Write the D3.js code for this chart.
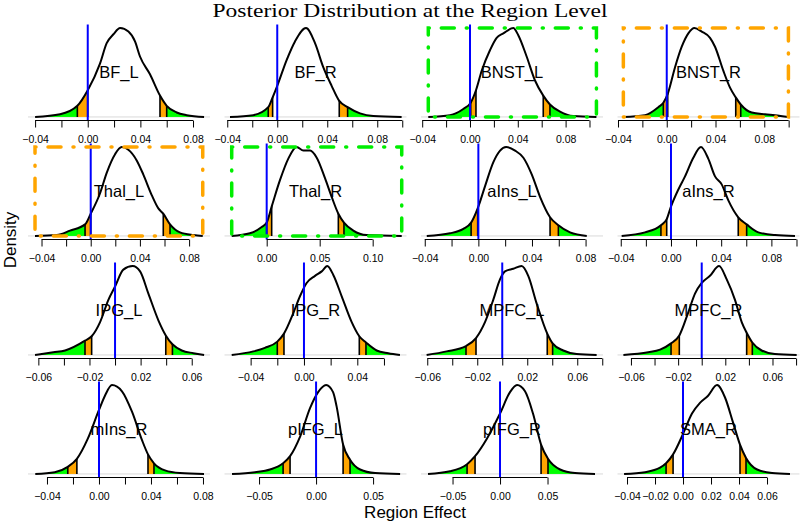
<!DOCTYPE html>
<html>
<head>
<meta charset="utf-8">
<script src="https://cdn.jsdelivr.net/npm/d3@7/dist/d3.min.js"></script>
<style>
    body { margin: 0; background: #fff; }
    svg text { font-family: "Liberation Sans", Arial, sans-serif; fill: #000; }
</style>
</head>
<body>
<div id="chart"></div>
<script>
var regions = ["BF_L", "BF_R", "BNST_L", "BNST_R",
               "Thal_L", "Thal_R", "aIns_L", "aIns_R",
               "IPG_L", "IPG_R", "MPFC_L", "MPFC_R",
               "mIns_R", "pIFG_L", "pIFG_R", "SMA_R"];

// x axis range of each panel
var xLimits = [
    [-0.0454, 0.0929], [-0.0422, 0.1034], [-0.0410, 0.1113], [-0.0404, 0.1089],
    [-0.0510, 0.0970], [-0.0398, 0.1319], [-0.0428, 0.0930], [-0.0426, 0.1024],
    [-0.0681, 0.0743], [-0.0596, 0.0769], [-0.0650, 0.0806], [-0.0714, 0.0829],
    [-0.0546, 0.0854], [-0.0803, 0.0793], [-0.0832, 0.1084], [-0.0468, 0.0832]
];

var tickValues = [
    [-0.04, -0.02, 0, 0.02, 0.04, 0.06, 0.08],
    [-0.04, -0.02, 0, 0.02, 0.04, 0.06, 0.08, 0.10],
    [-0.04, -0.02, 0, 0.02, 0.04, 0.06, 0.08, 0.10],
    [-0.04, -0.02, 0, 0.02, 0.04, 0.06, 0.08, 0.10],
    [-0.04, -0.02, 0, 0.02, 0.04, 0.06, 0.08],
    [0, 0.05, 0.10],
    [-0.04, -0.02, 0, 0.02, 0.04, 0.06, 0.08],
    [-0.04, -0.02, 0, 0.02, 0.04, 0.06, 0.08, 0.10],
    [-0.06, -0.04, -0.02, 0, 0.02, 0.04, 0.06],
    [-0.04, -0.02, 0, 0.02, 0.04, 0.06],
    [-0.06, -0.04, -0.02, 0, 0.02, 0.04, 0.06, 0.08],
    [-0.06, -0.04, -0.02, 0, 0.02, 0.04, 0.06, 0.08],
    [-0.04, -0.02, 0, 0.02, 0.04, 0.06, 0.08],
    [-0.05, 0, 0.05],
    [-0.05, 0, 0.05],
    [-0.04, -0.02, 0, 0.02, 0.04, 0.06]
];

var tickLabels = [
    [-0.04, 0, 0.04, 0.08], [-0.04, 0, 0.04, 0.08], [-0.04, 0, 0.04, 0.08], [-0.04, 0, 0.04, 0.08],
    [-0.04, 0, 0.04, 0.08], [0, 0.05, 0.10], [-0.04, 0, 0.04, 0.08], [-0.04, 0, 0.04, 0.08],
    [-0.06, -0.02, 0.02, 0.06], [-0.04, 0, 0.04], [-0.06, -0.02, 0.02, 0.06], [-0.06, -0.02, 0.02, 0.06],
    [-0.04, 0, 0.04, 0.08], [-0.05, 0, 0.05], [-0.05, 0, 0.05], [-0.04, -0.02, 0, 0.02, 0.04, 0.06]
];

// outer / inner lower cut, inner / outer upper cut of the shaded tails
var tailCuts = [
    [-0.0079, 0.0000, 0.0549, 0.0600],
    [-0.0072, -0.0037, 0.0496, 0.0563],
    [0.0006, 0.0050, 0.0613, 0.0669],
    [-0.0028, 0.0008, 0.0566, 0.0607],
    [-0.0046, 0.0000, 0.0590, 0.0645],
    [0.0000, 0.0047, 0.0676, 0.0729],
    [-0.0054, -0.0005, 0.0535, 0.0597],
    [-0.0080, -0.0034, 0.0536, 0.0603],
    [-0.0235, -0.0183, 0.0397, 0.0449],
    [-0.0200, -0.0150, 0.0415, 0.0465],
    [-0.0290, -0.0210, 0.0360, 0.0403],
    [-0.0260, -0.0190, 0.0381, 0.0429],
    [-0.0240, -0.0170, 0.0377, 0.0423],
    [-0.0289, -0.0228, 0.0237, 0.0298],
    [-0.0347, -0.0263, 0.0432, 0.0505],
    [-0.0121, -0.0071, 0.0407, 0.0450]
];

var boxColors = [null, null, "#00ee00", "#ffa500",
                 "#ffa500", "#00ee00", null, null,
                 null, null, null, null,
                 null, null, null, null];

// posterior densities, relative to each panel's peak
var densities = [
    [[-0.0400,0],[-0.0210,0.03],[-0.0079,0.125],[0.0000,0.30],[0.0093,0.60],[0.0144,0.83],[0.0195,0.93],[0.0246,1.0],[0.0309,0.96],[0.0359,0.85],[0.0397,0.68],[0.0473,0.48],[0.0549,0.24],[0.0600,0.125],[0.0676,0.05],[0.0752,0.02],[0.0884,0]],
    [[-0.0378,0],[-0.0192,0.02],[-0.0072,0.11],[-0.0037,0.22],[0,0.35],[0.0075,0.64],[0.0142,0.85],[0.0230,1.0],[0.0302,0.83],[0.0368,0.56],[0.0435,0.35],[0.0496,0.18],[0.0563,0.11],[0.0662,0.04],[0.0768,0.01],[0.0995,0]],
    [[-0.0349,0],[-0.0167,0.02],[-0.0056,0.09],[0.0006,0.16],[0.0050,0.30],[0.0098,0.52],[0.0167,0.75],[0.0223,0.89],[0.0279,0.94],[0.0362,1.0],[0.0404,0.92],[0.0474,0.68],[0.0544,0.41],[0.0613,0.24],[0.0669,0.14],[0.0753,0.06],[0.0864,0.01],[0.1058,0]],
    [[-0.0356,0],[-0.0178,0.02],[-0.0069,0.11],[-0.0028,0.16],[0.0008,0.26],[0.0068,0.56],[0.0123,0.79],[0.0177,0.94],[0.0227,1.0],[0.0287,0.96],[0.0355,0.89],[0.0396,0.79],[0.0464,0.52],[0.0519,0.33],[0.0566,0.22],[0.0607,0.14],[0.0697,0.05],[0.0806,0.03],[0.0888,0.02],[0.0998,0]],
    [[-0.0453,0],[-0.0276,0.01],[-0.0168,0.06],[-0.0046,0.13],[0,0.25],[0.0076,0.48],[0.0130,0.71],[0.0198,0.92],[0.0252,1.0],[0.0306,0.97],[0.0374,0.85],[0.0428,0.69],[0.0496,0.46],[0.0550,0.31],[0.0590,0.25],[0.0645,0.13],[0.0726,0.04],[0.0835,0.01],[0.0911,0]],
    [[-0.0330,0],[-0.0158,0.03],[-0.0047,0.10],[0,0.15],[0.0047,0.33],[0.0126,0.63],[0.0204,0.87],[0.0283,1.0],[0.0346,0.96],[0.0409,0.96],[0.0472,0.88],[0.0550,0.65],[0.0613,0.44],[0.0676,0.25],[0.0729,0.15],[0.0817,0.06],[0.0943,0.01],[0.1274,0]],
    [[-0.0385,0],[-0.0211,0.03],[-0.0112,0.08],[-0.0054,0.15],[-0.0005,0.31],[0.0050,0.56],[0.0112,0.83],[0.0162,0.96],[0.0207,1.0],[0.0274,0.96],[0.0336,0.88],[0.0399,0.69],[0.0460,0.44],[0.0535,0.21],[0.0597,0.12],[0.0684,0.04],[0.0809,0]],
    [[-0.0393,0],[-0.0207,0.04],[-0.0080,0.12],[-0.0034,0.19],[0,0.33],[0.0058,0.52],[0.0112,0.67],[0.0178,0.88],[0.0239,1.0],[0.0297,0.87],[0.0351,0.67],[0.0404,0.58],[0.0457,0.40],[0.0536,0.21],[0.0603,0.13],[0.0696,0.04],[0.0829,0.01],[0.0988,0]],
    [[-0.0626,0],[-0.0483,0.03],[-0.0391,0.05],[-0.0235,0.16],[-0.0183,0.21],[-0.0117,0.37],[-0.0052,0.62],[0,0.77],[0.0065,0.96],[0.0138,1.0],[0.0196,0.94],[0.0261,0.69],[0.0339,0.39],[0.0397,0.22],[0.0449,0.12],[0.0522,0.05],[0.0613,0.02],[0.0697,0]],
    [[-0.0542,0],[-0.0380,0.04],[-0.0293,0.08],[-0.0200,0.15],[-0.0150,0.24],[-0.0080,0.47],[-0.0030,0.66],[0.0020,0.81],[0.0083,0.89],[0.0133,0.94],[0.0175,1.0],[0.0220,0.90],[0.0283,0.66],[0.0358,0.37],[0.0415,0.21],[0.0465,0.14],[0.0545,0.05],[0.0632,0.02],[0.0720,0]],
    [[-0.0605,0],[-0.0445,0.04],[-0.0290,0.10],[-0.0210,0.19],[-0.0138,0.37],[-0.0072,0.62],[-0.0018,0.85],[0.0022,0.94],[0.0088,0.97],[0.0155,1.0],[0.0208,0.89],[0.0275,0.58],[0.0360,0.24],[0.0403,0.13],[0.0488,0.05],[0.0595,0.01],[0.0755,0]],
    [[-0.0664,0],[-0.0453,0.03],[-0.0353,0.06],[-0.0260,0.13],[-0.0190,0.22],[-0.0114,0.48],[-0.0057,0.69],[0,0.81],[0.0070,0.89],[0.0147,1.0],[0.0212,0.85],[0.0282,0.62],[0.0339,0.37],[0.0381,0.25],[0.0429,0.14],[0.0508,0.05],[0.0620,0.01],[0.0805,0]],
    [[-0.0490,0],[-0.0340,0.02],[-0.0240,0.08],[-0.0170,0.17],[-0.0085,0.40],[0,0.72],[0.0046,0.88],[0.0100,1.0],[0.0177,0.93],[0.0254,0.70],[0.0331,0.38],[0.0377,0.22],[0.0423,0.12],[0.0508,0.04],[0.0623,0.01],[0.0808,0]],
    [[-0.0737,0],[-0.0535,0.02],[-0.0404,0.05],[-0.0289,0.12],[-0.0228,0.20],[-0.0140,0.42],[-0.0053,0.74],[0.0018,0.92],[0.0088,1.0],[0.0149,0.92],[0.0180,0.76],[0.0237,0.33],[0.0298,0.16],[0.0386,0.05],[0.0518,0.01],[0.0737,0]],
    [[-0.0758,0],[-0.0526,0.03],[-0.0347,0.11],[-0.0263,0.20],[-0.0137,0.40],[0,0.68],[0.0105,0.92],[0.0179,1.0],[0.0263,0.93],[0.0347,0.68],[0.0432,0.33],[0.0505,0.17],[0.0632,0.05],[0.0789,0.01],[0.1000,0]],
    [[-0.0421,0],[-0.0271,0.02],[-0.0164,0.07],[-0.0121,0.12],[-0.0071,0.22],[0,0.45],[0.0064,0.68],[0.0121,0.80],[0.0179,0.88],[0.0243,1.0],[0.0300,0.86],[0.0357,0.58],[0.0407,0.33],[0.0450,0.18],[0.0529,0.05],[0.0636,0.01],[0.0764,0]]
];

var width = 800,
    height = 526;

var panel = {
    left: 28,
    top: 24.5,
    width: 182,
    height: 96,
    colStep: 196.5,
    rowStep: 119
};

var svg = d3.select("#chart")
    .append("svg")
    .attr("width", width)
    .attr("height", height);

var fmt = d3.format(".2f");

regions.forEach(function(name, i) {
    var col = i % 4,
        row = Math.floor(i / 4),
        x0 = panel.left + col * panel.colStep,
        y0 = panel.top + row * panel.rowStep;

    var pts = densities[i];
    var ymax = d3.max(pts, function(d) { return d[1]; });

    var x = d3.scaleLinear().domain(xLimits[i]).range([x0, x0 + panel.width]);
    var y = d3.scaleLinear().domain([-0.04 * ymax, 1.04 * ymax]).range([y0 + panel.height, y0]);

    var g = svg.append("g").attr("class", "panel");

    var area = d3.area()
        .x(function(d) { return x(d[0]); })
        .y0(y(0))
        .y1(function(d) { return y(d[1]); })
        .curve(d3.curveMonotoneX);

    var line = d3.line()
        .x(function(d) { return x(d[0]); })
        .y(function(d) { return y(d[1]); })
        .curve(d3.curveMonotoneX);

    var clipId = "under" + i;
    g.append("clipPath")
        .attr("id", clipId)
        .append("path")
        .attr("d", area(pts));

    // grey zero line
    g.append("line")
        .attr("x1", x0).attr("x2", x0 + panel.width)
        .attr("y1", y(0)).attr("y2", y(0))
        .attr("stroke", "#d9d9d9")
        .attr("stroke-width", 1);

    var cuts = tailCuts[i],
        lo = pts[0][0],
        hi = pts[pts.length - 1][0];
    var shades = [
        [lo, cuts[0], "#00ff00"],
        [cuts[0], cuts[1], "#ffa500"],
        [cuts[2], cuts[3], "#ffa500"],
        [cuts[3], hi, "#00ff00"]
    ];

    g.selectAll(".shade")
        .data(shades)
        .enter()
        .append("rect")
        .attr("class", "shade")
        .attr("clip-path", "url(#" + clipId + ")")
        .attr("x", function(d) { return x(d[0]); })
        .attr("width", function(d) { return x(d[1]) - x(d[0]); })
        .attr("y", y0)
        .attr("height", y(0) - y0)
        .attr("fill", function(d) { return d[2]; });

    g.selectAll(".cut")
        .data(cuts)
        .enter()
        .append("line")
        .attr("class", "cut")
        .attr("clip-path", "url(#" + clipId + ")")
        .attr("x1", function(d) { return x(d); })
        .attr("x2", function(d) { return x(d); })
        .attr("y1", y0)
        .attr("y2", y(0))
        .attr("stroke", "#000")
        .attr("stroke-width", 1.6);

    g.append("path")
        .attr("d", line(pts))
        .attr("fill", "none")
        .attr("stroke", "#000")
        .attr("stroke-width", 2)
        .attr("stroke-linejoin", "round");

    // reference line at zero
    g.append("line")
        .attr("x1", x(0)).attr("x2", x(0))
        .attr("y1", y0).attr("y2", y0 + panel.height)
        .attr("stroke", "#0000ff")
        .attr("stroke-width", 2);

    g.append("text")
        .attr("x", x0 + panel.width / 2)
        .attr("y", y(ymax / 2))
        .attr("dy", "0.36em")
        .attr("text-anchor", "middle")
        .style("font-size", "16.5px")
        .text(name);

    if (boxColors[i]) {
        g.append("rect")
            .attr("x", x(lo))
            .attr("y", y(ymax))
            .attr("width", x(hi) - x(lo))
            .attr("height", y(0) - y(ymax))
            .attr("fill", "none")
            .attr("stroke", boxColors[i])
            .attr("stroke-width", 3.5)
            .attr("stroke-linecap", "round")
            .attr("stroke-dasharray", "1,12,13,12");
    }

    var ticks = tickValues[i],
        shown = tickLabels[i];
    var axis = d3.axisBottom(x)
        .tickValues(ticks)
        .tickSize(7)
        .tickPadding(8)
        .tickFormat(function(v) {
            return shown.some(function(s) { return Math.abs(s - v) < 1e-9; }) ? fmt(v) : "";
        });

    var ax = g.append("g")
        .attr("transform", "translate(0," + (y0 + panel.height) + ")")
        .call(axis);
    ax.select(".domain").remove();
    ax.selectAll("text")
        .style("font-family", "'Liberation Sans', Arial, sans-serif")
        .style("font-size", "10.5px")
        .attr("fill", "#000");
    ax.selectAll("line").attr("stroke", "#000");
    ax.append("line")
        .attr("x1", x(ticks[0]))
        .attr("x2", x(ticks[ticks.length - 1]))
        .attr("stroke", "#000")
        .attr("stroke-width", 1);
});

svg.append("text")
    .attr("x", 410)
    .attr("y", 17)
    .attr("text-anchor", "middle")
    .attr("textLength", 395)
    .attr("lengthAdjust", "spacingAndGlyphs")
    .style("font-family", "'Liberation Serif', 'DejaVu Serif', serif")
    .style("font-size", "18px")
    .text("Posterior Distribution at the Region Level");

svg.append("text")
    .attr("x", 415)
    .attr("y", 518)
    .attr("text-anchor", "middle")
    .style("font-size", "17px")
    .text("Region Effect");

svg.append("text")
    .attr("transform", "translate(16,240) rotate(-90)")
    .attr("text-anchor", "middle")
    .style("font-size", "17px")
    .text("Density");
</script>
</body>
</html>
